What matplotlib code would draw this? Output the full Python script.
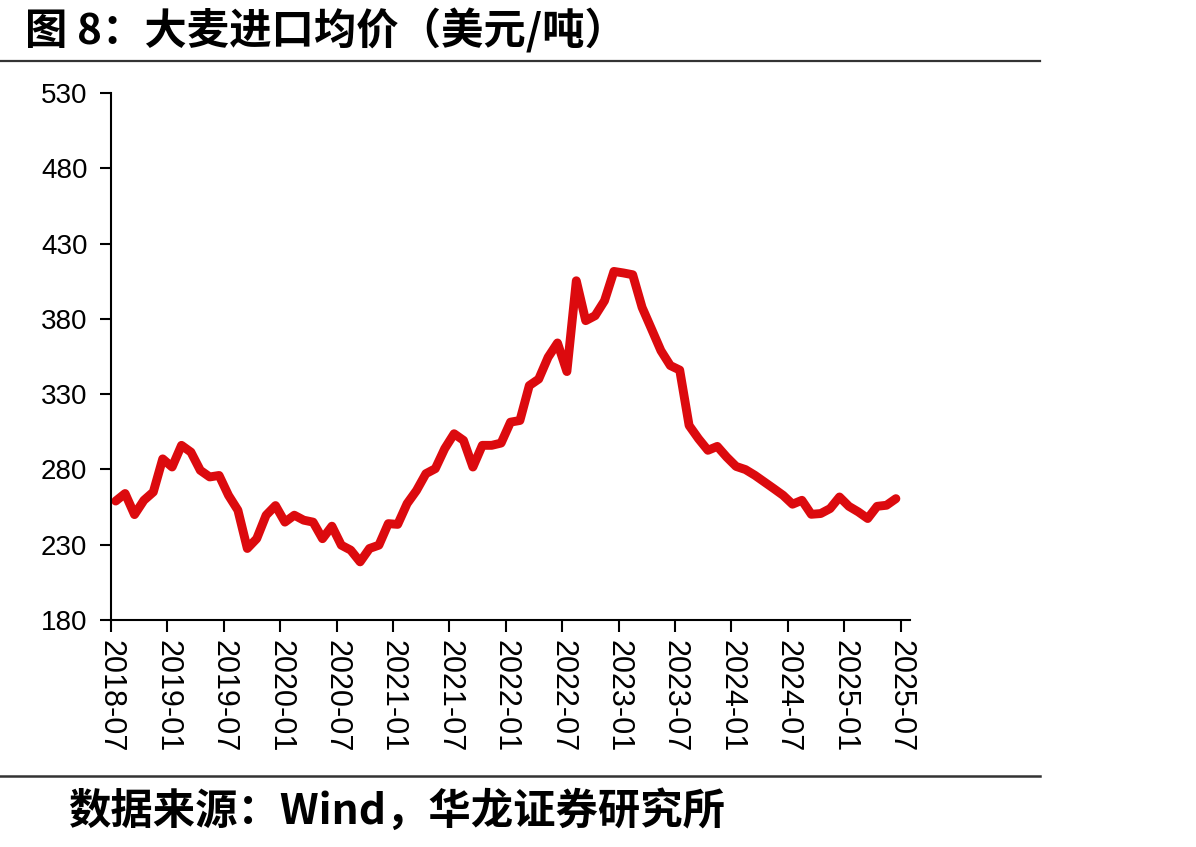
import numpy as np
import matplotlib
matplotlib.use("Agg")
import matplotlib.pyplot as plt
from matplotlib.lines import Line2D

plt.rcParams['font.family'] = ['Liberation Sans', 'Noto Sans CJK SC', 'DejaVu Sans']

# monthly barley import price, USD/t, 2018-07 .. 2025-06
prices = [259, 264, 250, 259.5, 265, 287, 281.6, 296, 291.5, 279.4,
          275, 276, 262.8, 252.9, 227.5, 234, 249.6, 256, 245, 249.6,
          246.3, 245, 234, 242.3, 229.7, 226.4, 218.6, 227.5, 229.7, 244,
          243.5, 257.3, 266, 277.2, 280.5, 293.8, 303.7, 299.3, 281.6, 296,
          296, 297.5, 311.4, 312.5, 335.7, 340, 354.5, 364, 345, 405.3,
          378.8, 382.1, 392, 411.5, 410.5, 409.3, 387.6, 373.3, 358.9, 349,
          346, 309.2, 300.4, 292.7, 295.3, 288.2, 282, 279.9, 276.1, 271.7,
          267.3, 262.8, 256.9, 259.5, 250.2, 250.7, 254, 261.7, 255.5, 251.8,
          247.4, 255.5, 256.2, 260.6]
tick_labels = ['2018-07', '2019-01', '2019-07', '2020-01', '2020-07',
               '2021-01', '2021-07', '2022-01', '2022-07', '2023-01',
               '2023-07', '2024-01', '2024-07', '2025-01', '2025-07']
y_ticks = [180, 230, 280, 330, 380, 430, 480, 530]

W, H = 1196, 847
fig = plt.figure(figsize=(W / 100, H / 100), dpi=100)

# axes placed in pixel terms of the reference
ax = fig.add_axes([111 / W, 1 - 620 / H, (910 - 111) / W, 527 / H])

x = np.arange(len(prices)) + 0.5
ax.plot(x, prices, color='#DC0A0E', lw=6.4, solid_joinstyle='round',
        solid_capstyle='round', clip_on=False)

ax.set_xlim(0, 85)
ax.set_ylim(180, 530)
ax.set_xticks(np.arange(0, 6 * len(tick_labels), 6))
ax.set_xticklabels(tick_labels, rotation=-90, fontsize=22)
ax.set_yticks(y_ticks)
ax.set_yticklabels([str(v) for v in y_ticks], fontsize=20)

for s in ['top', 'right']:
    ax.spines[s].set_visible(False)
for s in ['left', 'bottom']:
    ax.spines[s].set_linewidth(1.5)
ax.tick_params(axis='y', direction='out', length=8, width=1.5, pad=9)
ax.tick_params(axis='x', direction='out', length=8.5, width=1.5, pad=6)

# title, rules and source
cjk = ['Noto Sans CJK SC', 'DejaVu Sans']
fig.text(25 / W, 1 - 31 / H, '图 8：大麦进口均价（美元/吨）', family=cjk,
         fontsize=30.5, fontweight='bold', va='center', ha='left')
fig.add_artist(Line2D([0, 1040 / W], [1 - 61 / H] * 2, color='#333333', lw=1.6))
fig.add_artist(Line2D([0, 1040 / W], [1 - 776 / H] * 2, color='#333333', lw=1.8))
fig.text(68 / W, 1 - 812 / H, '数据来源：Wind，华龙证券研究所', family=cjk,
         fontsize=30.5, fontweight='bold', va='center', ha='left')

fig.savefig('out.png', dpi=100)
